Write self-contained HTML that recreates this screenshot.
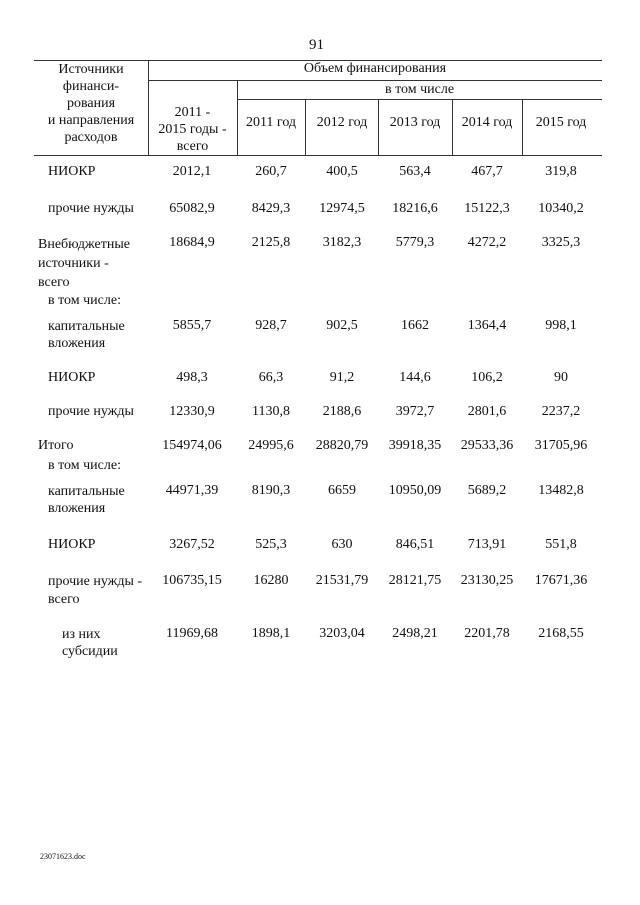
<!DOCTYPE html>
<html><head><meta charset="utf-8"><style>
body{margin:0;background:#fff;}
#p{position:relative;width:640px;height:905px;background:#fff;font-family:"Liberation Serif",serif;font-size:14px;color:#111;overflow:hidden}
.t{position:absolute;white-space:nowrap;line-height:16px}
.c{position:absolute;text-align:center;white-space:nowrap;line-height:16px;width:90px}
.h{position:absolute;background:#333;height:1px}
.v{position:absolute;background:#333;width:1px}
</style></head><body><div id="p">
<div class="t" style="left:309px;top:37px;font-size:15px">91</div>
<div class="h" style="left:34px;top:60px;width:568px"></div>
<div class="h" style="left:148px;top:80px;width:454px"></div>
<div class="h" style="left:237px;top:99px;width:365px"></div>
<div class="h" style="left:34px;top:155px;width:568px"></div>
<div class="v" style="left:148px;top:60px;height:95px"></div>
<div class="v" style="left:237px;top:80px;height:75px"></div>
<div class="v" style="left:305px;top:99px;height:56px"></div>
<div class="v" style="left:378px;top:99px;height:56px"></div>
<div class="v" style="left:452px;top:99px;height:56px"></div>
<div class="v" style="left:522px;top:99px;height:56px"></div>
<div class="t" style="left:36px;top:61px;width:110px;text-align:center;line-height:17px">Источники<br>финанси-<br>рования<br>и направления<br>расходов</div>
<div class="t" style="left:148px;top:61px;width:454px;text-align:center">Объем финансирования</div>
<div class="t" style="left:237px;top:82px;width:365px;text-align:center">в том числе</div>
<div class="t" style="left:148px;top:104px;width:89px;text-align:center;line-height:17px">2011 -<br>2015 годы -<br>всего</div>
<div class="c" style="left:226px;top:115px">2011 год</div>
<div class="c" style="left:297px;top:115px">2012 год</div>
<div class="c" style="left:370px;top:115px">2013 год</div>
<div class="c" style="left:442px;top:115px">2014 год</div>
<div class="c" style="left:516px;top:115px">2015 год</div>

<div class="t" style="left:48px;top:164px">НИОКР</div>
<div class="t" style="left:48px;top:201px">прочие нужды</div>
<div class="t" style="left:38px;top:235px;line-height:19px">Внебюджетные<br>источники -<br>всего</div>
<div class="t" style="left:48px;top:293px">в том числе:</div>
<div class="t" style="left:48px;top:318px;line-height:17px">капитальные<br>вложения</div>
<div class="t" style="left:48px;top:370px">НИОКР</div>
<div class="t" style="left:48px;top:404px">прочие нужды</div>
<div class="t" style="left:38px;top:438px">Итого</div>
<div class="t" style="left:48px;top:458px">в том числе:</div>
<div class="t" style="left:48px;top:483px;line-height:17px">капитальные<br>вложения</div>
<div class="t" style="left:48px;top:537px">НИОКР</div>
<div class="t" style="left:48px;top:573px;line-height:18px">прочие нужды -<br>всего</div>
<div class="t" style="left:62px;top:626px;line-height:17px">из них<br>субсидии</div>

<div id="rows"></div>
<div class="t" style="left:40px;top:852px;font-size:8px;line-height:10px">23071623.doc</div>
</div>
<script>
var cx=[192,271,342,415,487,561];
var rows=[[164,["2012,1","260,7","400,5","563,4","467,7","319,8"]],
[201,["65082,9","8429,3","12974,5","18216,6","15122,3","10340,2"]],
[235,["18684,9","2125,8","3182,3","5779,3","4272,2","3325,3"]],
[318,["5855,7","928,7","902,5","1662","1364,4","998,1"]],
[370,["498,3","66,3","91,2","144,6","106,2","90"]],
[404,["12330,9","1130,8","2188,6","3972,7","2801,6","2237,2"]],
[438,["154974,06","24995,6","28820,79","39918,35","29533,36","31705,96"]],
[483,["44971,39","8190,3","6659","10950,09","5689,2","13482,8"]],
[537,["3267,52","525,3","630","846,51","713,91","551,8"]],
[573,["106735,15","16280","21531,79","28121,75","23130,25","17671,36"]],
[626,["11969,68","1898,1","3203,04","2498,21","2201,78","2168,55"]]];
var h="";rows.forEach(function(r){r[1].forEach(function(v,i){h+='<div class="c" style="left:'+(cx[i]-45)+'px;top:'+r[0]+'px">'+v+'</div>';});});
document.getElementById("rows").innerHTML=h;
</script>
</body></html>
